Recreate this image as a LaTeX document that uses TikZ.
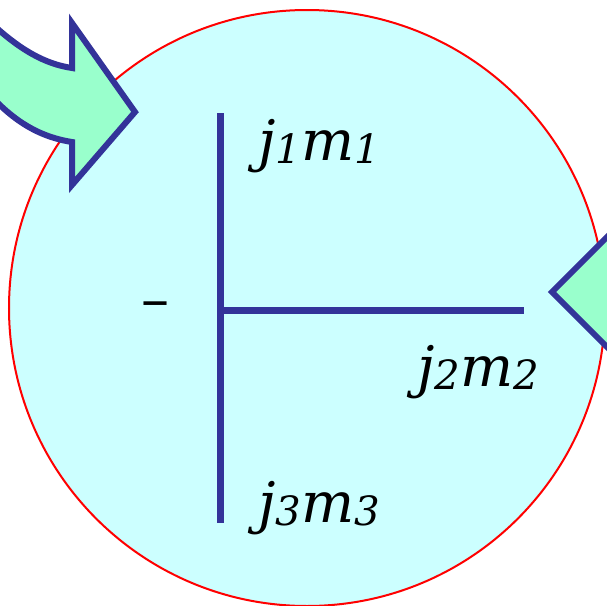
\documentclass[tikz,border=0pt]{standalone}
\usepackage{fontspec}
\setmainfont{DejaVu Serif}
\usetikzlibrary{positioning}
\definecolor{cjBlue}{RGB}{51,51,153}
\definecolor{cjCyan}{RGB}{204,255,255}
\definecolor{cjMint}{RGB}{153,255,204}
\newcommand{\jmsub}[1]{\raisebox{-0.07em}{\scalebox{0.72}{#1}}}
\newcommand{\jmlabel}[1]{\itshape j\jmsub{#1}m\jmsub{#1}}

\begin{document}
\begin{tikzpicture}[x=0.5pt, y=-0.5pt, every node/.style={font=\fontsize{28}{32}\selectfont, inner sep=0pt}]
	\useasboundingbox (0,0) rectangle (607,606);
	\clip (0,0) rectangle (607,606);
	% Sphere
	\draw[red, line width=1pt, fill=cjCyan] (307,308) circle (149pt);
	% Incoming arrow (top left)
	\draw[cjBlue, line width=3pt, fill=cjMint, line join=miter]
		(-10,22) .. controls (20,50) and (45,64) .. (72,68) -- (72,23) -- (135,112)
		-- (72,185) -- (72,142) .. controls (40,137) and (15,122) .. (-10,95) -- cycle;
	% Outgoing arrow (right)
	\draw[cjBlue, line width=3pt, fill=cjMint, line join=miter]
		(622,222) -- (552,292) -- (622,362) -- cycle;
	% Vertex lines
	\coordinate (top) at (220,113);
	\coordinate (bottom) at (220,523);
	\coordinate (junction) at (220,310);
	\coordinate (end) at (524,310);
	\draw[cjBlue, line width=3.5pt] (top) -- (bottom);
	\draw[cjBlue, line width=3.5pt] (junction) -- (end);
	% Labels
	\node[anchor=base] (minus) at (155,318) {–};
	\node[anchor=base west] (jm1) at (258,160) {\jmlabel{1}};
	\node[anchor=base west] (jm2) at (417,386) {\jmlabel{2}};
	\node[anchor=base west] (jm3) at (258,522) {\jmlabel{3}};
\end{tikzpicture}
\end{document}
